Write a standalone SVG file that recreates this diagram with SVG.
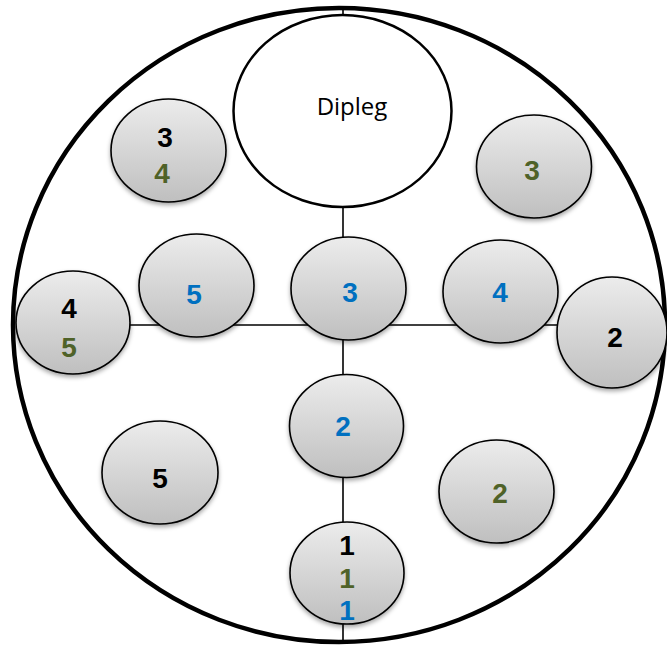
<svg xmlns="http://www.w3.org/2000/svg" width="667" height="647" viewBox="0 0 667 647">
<defs>
<linearGradient id="g" x1="0" y1="0" x2="0" y2="1">
<stop offset="0" stop-color="#ececec"/>
<stop offset="1" stop-color="#bfbfbf"/>
</linearGradient>
<filter id="sh" x="-20%" y="-20%" width="140%" height="150%">
<feDropShadow dx="0" dy="2.5" stdDeviation="2" flood-color="#000" flood-opacity="0.35"/>
</filter>
</defs>
<style>
.n{fill:url(#g);stroke:#000;stroke-width:1.6;filter:url(#sh)}
.t{font-family:"Liberation Sans",Arial,sans-serif;font-weight:bold;font-size:28px;text-anchor:middle}
.k{fill:#000}.gr{fill:#4f6228}.bl{fill:#0070c0}
.c{stroke:#000;stroke-width:1.6;fill:none}
</style>
<rect width="667" height="647" fill="#fff"/>
<ellipse id="vessel" cx="339" cy="325" rx="326" ry="317" fill="#fff" stroke="#000" stroke-width="4.5"/>
<g id="connectors">
<line class="c" x1="343" y1="10" x2="343" y2="641"/>
<line class="c" x1="120" y1="325" x2="565" y2="325"/>
</g>
<g id="dipleg">
<ellipse cx="342.5" cy="111" rx="109" ry="96" fill="#fff" stroke="#000" stroke-width="2.5"/>
<text x="352" y="115" font-family="'Open Sans','Liberation Sans',Arial,sans-serif" font-size="24" text-anchor="middle" fill="#000">Dipleg</text>
</g>
<g id="n-tl"><ellipse class="n" cx="168.5" cy="150.5" rx="57.5" ry="51.5"/><text class="t k" x="165" y="147">3</text><text class="t gr" x="162" y="183">4</text></g>
<g id="n-tr"><ellipse class="n" cx="534" cy="166.5" rx="57.5" ry="51.5"/><text class="t gr" x="532" y="180">3</text></g>
<g id="n-l2"><ellipse class="n" cx="196.5" cy="285.5" rx="57.5" ry="51.5"/><text class="t bl" x="194" y="304">5</text></g>
<g id="n-c"><ellipse class="n" cx="348.5" cy="288.5" rx="57.5" ry="51.5"/><text class="t bl" x="350" y="302">3</text></g>
<g id="n-r2"><ellipse class="n" cx="500.5" cy="291.5" rx="57.5" ry="51.5"/><text class="t bl" x="500" y="302">4</text></g>
<g id="n-l1"><ellipse class="n" cx="73" cy="322.5" rx="57" ry="51.5"/><text class="t k" x="69" y="318">4</text><text class="t gr" x="69" y="357">5</text></g>
<g id="n-r1"><ellipse class="n" cx="612" cy="332.5" rx="55" ry="55.5"/><text class="t k" x="615" y="347">2</text></g>
<g id="n-m"><ellipse class="n" cx="346.5" cy="426" rx="57" ry="51.5"/><text class="t bl" x="343" y="436">2</text></g>
<g id="n-bl"><ellipse class="n" cx="160" cy="472.5" rx="58" ry="51.5"/><text class="t k" x="160" y="488">5</text></g>
<g id="n-br"><ellipse class="n" cx="496.5" cy="491.5" rx="57.5" ry="51.5"/><text class="t gr" x="500" y="503">2</text></g>
<g id="n-b"><ellipse class="n" cx="347" cy="573" rx="57" ry="51"/><text class="t k" x="347" y="555">1</text><text class="t gr" x="347" y="588">1</text><text class="t bl" x="347" y="620">1</text></g>
</svg>
